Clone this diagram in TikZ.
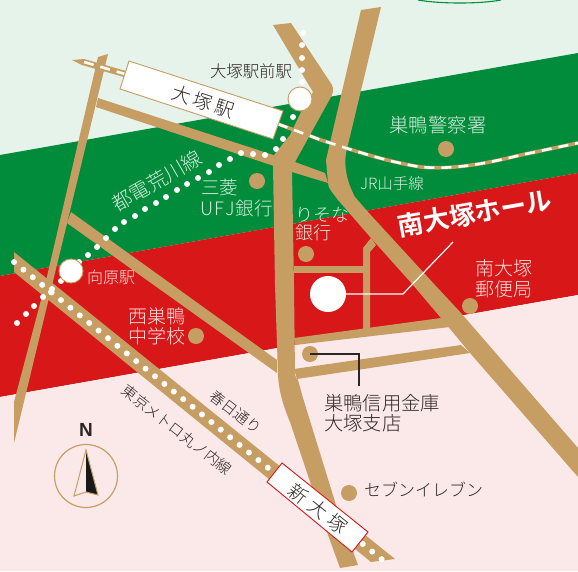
\documentclass[tikz,border=0pt]{standalone}
\usepackage{fontspec}
\setmainfont{Noto Sans CJK JP Light}[BoldFont={Noto Sans CJK JP Bold}]
\newfontfamily\latinsans{Liberation Sans}
\definecolor{mapgreen}{HTML}{008C3A}
\definecolor{mapred}{HTML}{D71718}
\definecolor{bggreen}{HTML}{E5F3EB}
\definecolor{bgpink}{HTML}{FBE9EA}
\definecolor{tan}{HTML}{C69D62}
\definecolor{ink}{HTML}{2E2626}
\definecolor{palegreen}{HTML}{D5ECDC}
\definecolor{palepink}{HTML}{FBE3E3}
\newcommand{\fs}[2]{\fontsize{#1}{#2}\selectfont}
\tikzset{
  road/.style={fill=tan,draw=none},
  whitedot/.style={circle,fill=white,inner sep=0pt,minimum size=6pt},
  landmark/.style={circle,fill=tan,inner sep=0pt,minimum size=16pt},
  stationmark/.style={circle,fill=white,draw=tan,line width=0.9pt,inner sep=0pt,minimum size=24pt},
  lbl/.style={inner sep=0pt,text=ink,align=left},
  lblg/.style={inner sep=0pt,text=palegreen,align=left},
  lblr/.style={inner sep=0pt,text=palepink,align=left},
  leader/.style={line width=1.2pt},
}
\begin{document}
\begin{tikzpicture}[x=1pt,y=-1pt]
\useasboundingbox (0,0) rectangle (578,571);
% bands
\fill[bggreen] (0,0) rectangle (578,571);
\fill[mapgreen] (0,155) -- (578,53) -- (578,173) -- (0,276) -- cycle;
\fill[mapred] (0,276) -- (578,173) -- (578,295) -- (0,397) -- cycle;
\fill[bgpink] (0,397) -- (578,295) -- (578,571) -- (0,571) -- cycle;
\draw[mapgreen,line width=1.1pt] (418,0) .. controls (440,4) and (480,4) .. (501,0);
% roads
\fill[road] (98,57) -- (108,54) -- (48,302) -- (14,443) -- (14,402) -- (45,285) -- cycle;
\fill[road] (98,98) -- (295,162) -- (325,173) -- (328,183) -- (292,172) -- (96,107) -- cycle;
\fill[road] (71,212) -- (277,360) -- (277,373) -- (67,223) -- cycle;
\fill[road] (273,25) -- (291,23) -- (332,85) .. controls (334,89) and (333,93) .. (331,97)
  -- (295,162) -- (292,172) -- (294,285) -- (295,375) .. controls (296,378) and (297,379) .. (298,380)
  -- (303,398) -- (336,505) -- (358,565) -- (340,568) -- (328,535) -- (290,422)
  .. controls (283,405) and (279,392) .. (278,375) -- (277,345) -- (275,285) -- (273,165)
  -- (274,155) -- (290,135) -- (301,112) -- (313,92) -- cycle;
\fill[road] (361,10) -- (381,7) -- (346,153) .. controls (344,165) and (346,180) .. (355,197)
  -- (368,212) -- (435,285) -- (461,313) -- (578,448) -- (578,477) -- (470,353) -- (441,318)
  -- (413,285) -- (371,238) -- (338,200) .. controls (332,192) and (328,188) .. (328,183)
  -- (326,160) -- cycle;
\fill[road] (371,238) -- (376,245) -- (370,252) -- (370,330) -- (363,330) -- (363,248) -- cycle;
\fill[road] (294,266) -- (364,266) -- (364,273) -- (294,273) -- cycle;
\fill[road] (294,338) -- (441,318) -- (450,327) -- (295,345) -- cycle;
\fill[road] (294,369) -- (461,345) -- (470,353) -- (297,379) -- cycle;
% Marunouchi line
\fill[road] (14,252) -- (395,559) -- (371,562) -- (14,272) -- cycle;
\foreach \i in {0,...,27} \node[whitedot] at ({14+9.4*\i},{262+7.62*\i}) {};
\foreach \i in {37,38,39} \node[whitedot] at ({15+9.4*\i},{262+7.62*\i}) {};
% Toden line
\foreach \p in {(17,323),(26,314),(34,306),(43,297),(51,292),(52,289),(61,281),(79,262),(88,255),(97,247),(106,238),(115,229),(124,222),(135,216),(145,209),(156,203),(166,197),(177,190),(187,184),(198,178),(209,172),(219,165),(230,159),(241,153),(253,154),(265,155),(276,149),(283,139),(293,117),(303,33),(302,45),(302,58),(302,70),(302,82)}
  \node[whitedot] at \p {};
% JR line
\fill[tan] (72,60) -- (84,59) -- (126,71) -- (124,77) -- (82,65) -- cycle;
\draw[white,line width=2.6pt,dash pattern=on 10pt off 7pt] (84,62) -- (125,74);
\draw[tan,line width=3.6pt] (278,124) -- (321,140) .. controls (355,151) and (388,162) .. (421,167)
  .. controls (455,170) and (488,163) .. (521,155) -- (578,143);
\draw[white,line width=2.6pt,dash pattern=on 10pt off 7pt] (278,124) -- (321,140) .. controls (355,151) and (388,162) .. (421,167)
  .. controls (455,170) and (488,163) .. (521,155) -- (578,143);
% station boxes
\filldraw[fill=white,draw=tan,line width=0.9pt] (129,61) -- (283,111) -- (273,139) -- (120,89) -- cycle;
\node[lbl,rotate=-18,font=\fs{19}{19}] (otsuka) at (203,102) {大\hspace{3.5pt}塚\hspace{3.5pt}駅};
\filldraw[fill=white,draw=mapred,line width=0.9pt] (282,463) -- (368,532) -- (352,552) -- (267,482) -- cycle;
\node[lbl,rotate=-38.5,font=\fs{19}{19}] (shin) at (318,509) {新\hspace{5.5pt}大\hspace{5.5pt}塚};
% station circles
\node[stationmark] (otsukamae) at (300,99) {};
\node[stationmark] (mukohara) at (71,271) {};
% landmarks
\node[landmark] (keisatsu) at (446,149) {};
\node[landmark] (ufj) at (257,181) {};
\node[landmark] (resona) at (306,254) {};
\node[landmark] (nishisugamo) at (196,336) {};
\node[landmark] (yubin) at (470,306) {};
\node[landmark] (shinkin) at (310,354) {};
\node[landmark] (seven) at (349,493) {};
% hall
\node[circle,fill=white,inner sep=0pt,minimum size=36pt] (hall) at (328,294) {};
\coordinate (hallbend) at (403,294);
\coordinate (hallend) at (453,242);
\draw[white,leader] (hall.center) -- (hallbend) -- (hallend);
\coordinate (sbend) at (359,354);
\coordinate (send) at (359,386);
\draw[ink,leader] (shinkin.center) -- (sbend) -- (send);
% labels
\node[lbl] (t1) at (251,71) [font=\fs{16.4}{16.4}] {大塚駅前駅};
\node[lblg] (t2) at (438,125) [font=\fs{19.4}{19.4}] {巣鴨警察署};
\node[lblg] (t3) at (392,184) [font=\fs{15.5}{15.5}] {JR山手線};
\node[lblg,anchor=west] (t4) at (200,198.5) [font=\fs{18.5}{21}] {\hspace{1pt}三菱\\U\hspace{1pt}F\hspace{1pt}J\hspace{1pt}銀\hspace{0.5pt}行};
\node[lblg,anchor=west] (t5) at (295,224) [font=\fs{18}{18.5}] {りそな\\銀行};
\node[lblg,rotate=30] (t6) at (157,181) [font=\fs{20}{20}] {都電荒川線};
\node[lblr,anchor=west] (t7) at (87,277) [font=\fs{16}{16}] {向原駅};
\node[lblr,anchor=west] (t8) at (128,326) [font=\fs{19}{20}] {西巣鴨\\中学校};
\node[inner sep=0pt,text=white,rotate=10,font=\fs{26}{26}\bfseries] (t9) at (475,213) {南大塚ホール};
\node[lblr,anchor=west] (t10) at (475,278.5) [font=\fs{19}{21}] {南大塚\\郵便局};
\node[lbl,anchor=west] (t11) at (324,413) [font=\fs{19.3}{20}] {巣鴨信用金庫\\大塚支店};
\node[lbl,anchor=west] (t12) at (364,489) [font=\fs{17}{17}] {セブンイレブン};
\node[lbl,rotate=-38] (t13) at (236,412) [font=\fs{15}{15}] {春日通り};
\node[lbl,rotate=-38] (t14) at (177,430) [font=\fs{15}{15}] {東京メトロ丸ノ内線};
% compass
\node[lbl] (north) at (86,430) [font=\fs{19}{19}\latinsans\bfseries] {N};
\node[circle,draw=tan,line width=1.2pt,inner sep=0pt,minimum size=63pt] (compass) at (86,476) {};
\fill[black!90] (86,450) -- (98,495) -- (86,492) -- cycle;
\draw[tan,line width=1pt,line join=miter] (86,450) -- (98,495) -- (86,492) -- (74,496) -- cycle;
\end{tikzpicture}
\end{document}
